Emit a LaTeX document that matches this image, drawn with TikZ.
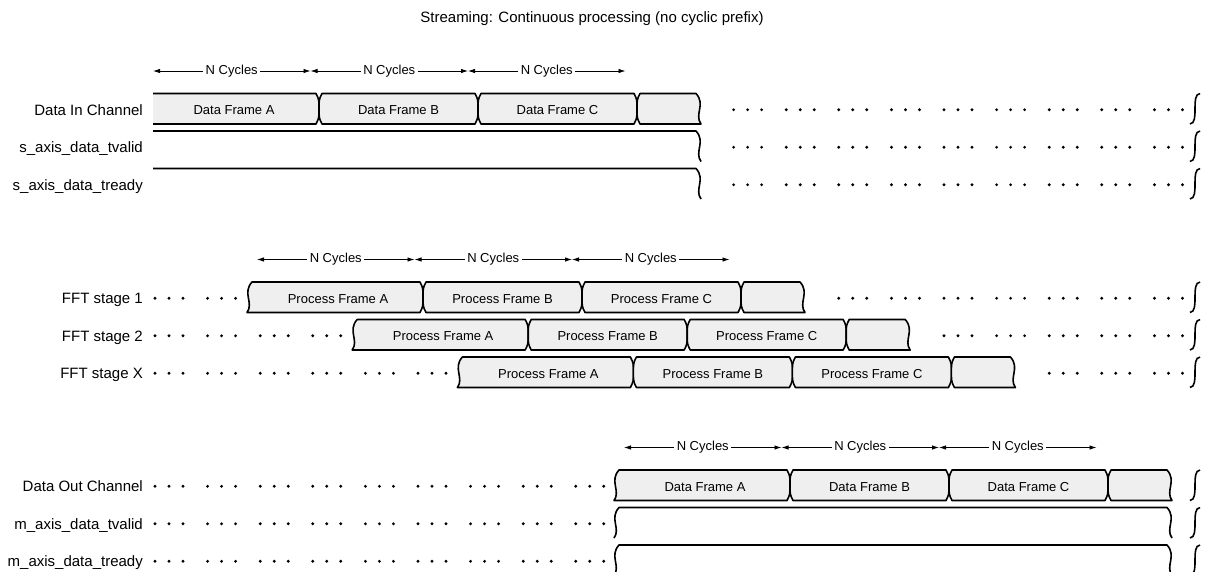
\documentclass[tikz,border=0pt]{standalone}
\usepackage{fontspec}
\setmainfont{Liberation Sans}
\usetikzlibrary{arrows.meta}
\definecolor{frameFill}{HTML}{EFEFEF}

\begin{document}
\begin{tikzpicture}[x=1pt, y=-1pt,
    sig/.style={anchor=base east, inner sep=0pt, font=\fontsize{15}{18}\selectfont},
    frm/.style={anchor=base, font=\fontsize{13}{16}\selectfont},
    cyc/.style={{Latex[length=7pt,width=4.5pt]}-{Latex[length=7pt,width=4.5pt]}, line width=0.8pt},
    cyclbl/.style={fill=white, inner sep=2.5pt, font=\fontsize{13}{16}\selectfont},
    bus/.style={draw, fill=frameFill, line width=1.6pt, line join=round},
    wire/.style={draw, line width=1.6pt, line join=round},
]
\useasboundingbox (0,0) rectangle (1207,571);

\node[anchor=base, font=\fontsize{15}{18}\selectfont] (title) at (592,22)
    {Streaming: Continuous processing (no cyclic prefix)};

% signal names + break mark on the far right
\foreach \t/\rid/\txt in {
    93.5/din/Data In Channel, 131/sval/s\_axis\_data\_tvalid, 168.5/srdy/s\_axis\_data\_tready,
    282/st1/FFT stage 1, 319.5/st2/FFT stage 2, 357/stX/FFT stage X,
    470/dout/Data Out Channel, 507.5/mval/m\_axis\_data\_tvalid, 545/mrdy/m\_axis\_data\_tready}
{
    \node[sig] (lbl-\rid) at (143,{\t+21.5}) {\txt};
    \draw[line width=1.6pt] (1200,\t) .. controls (1190,{\t+1}) and (1200,{\t+29.5}) .. (1190,{\t+30.5});
}

% frame rows: arrow start, top, name, word, wavy start?
\foreach \a/\t/\rid/\word/\w in {153/93.5/din/Data/0, 257/282/st1/Process/1,
    362.2/319.5/st2/Process/1, 467.4/357/stX/Process/1, 624/470/dout/Data/1}
{
\begin{scope}[shift={(\a,\t)}]
    \ifnum\w=1
        \path[bus] (-5,0) -- (163,0) .. controls (166,6) .. (166,15.25) .. controls (166,24.5) .. (163,30.5)
            -- (-10,30.5) .. controls (-3,21) and (-15,11) .. (-5,0) -- cycle;
    \else
        \fill[frameFill] (0,0) -- (163,0) .. controls (166,6) .. (166,15.25) .. controls (166,24.5) .. (163,30.5) -- (0,30.5) -- cycle;
        \draw[wire] (0,0) -- (163,0) .. controls (166,6) .. (166,15.25) .. controls (166,24.5) .. (163,30.5) -- (0,30.5);
    \fi
    \foreach \p/\q in {166/325, 325/484}
        \path[bus] ({\p+3},0) -- ({\q-3},0) .. controls (\q,6) .. (\q,15.25) .. controls (\q,24.5) .. ({\q-3},30.5)
            -- ({\p+3},30.5) .. controls (\p,24.5) .. (\p,15.25) .. controls (\p,6) .. ({\p+3},0) -- cycle;
    \path[bus] (487,0) -- (543,0) .. controls (553,11) and (541,21) .. (548,30.5)
        -- (487,30.5) .. controls (484,24.5) .. (484,15.25) .. controls (484,6) .. (487,0) -- cycle;
    \node[frm] (\rid-A) at (81,21) {\word\ Frame A};
    \node[frm] (\rid-B) at (245.5,21) {\word\ Frame B};
    \node[frm] (\rid-C) at (404.5,21) {\word\ Frame C};
\end{scope}
}

% N Cycles spans
\foreach \a/\t/\rid in {153/93.5/din, 257/282/st1, 624/470/dout}
{
    \foreach \i in {0,...,3}
        \coordinate (\rid-c\i) at ({\a+157.5*\i},{\t-22.5});
    \foreach \i [count=\j] in {0,1,2}
        \draw[cyc] (\rid-c\i) -- (\rid-c\j) node[cyclbl, midway] {N Cycles};
}

% valid/ready lines
\foreach \t in {131,168.5}
    \draw[wire] (153,\t) -- (696,\t) .. controls (706,{\t+11}) and (694,{\t+21}) .. (701,{\t+30.5});
\foreach \t in {507.5,545}
    \draw[wire] (614,{\t+30.5}) .. controls (621,{\t+21}) and (609,{\t+11}) .. (619,\t)
        -- (1167,\t) .. controls (1177,{\t+11}) and (1165,{\t+21}) .. (1172,{\t+30.5});

% dotted gaps
\foreach \t/\ks in {93.5/{11,12,13,14,15,16,17,18,19}, 131/{11,12,13,14,15,16,17,18,19},
    168.5/{11,12,13,14,15,16,17,18,19}, 282/{0,1,13,14,15,16,17,18,19},
    319.5/{0,1,2,3,15,16,17,18,19}, 357/{0,1,2,3,4,5,17,18,19},
    470/{0,1,2,3,4,5,6,7,8}, 507.5/{0,1,2,3,4,5,6,7,8}, 545/{0,1,2,3,4,5,6,7,8}}
    \foreach \k in \ks
        \foreach \d in {0,14,28}
            \fill ({155+52.6*\k+\d},{\t+16.25}) circle (1.6pt);
\end{tikzpicture}
\end{document}
